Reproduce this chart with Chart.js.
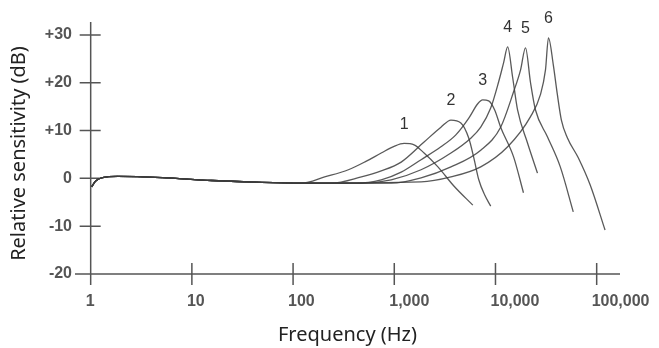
<!DOCTYPE html>
<html>
<head>
<meta charset="utf-8">
<script src="https://cdn.jsdelivr.net/npm/chart.js@4.4.1/dist/chart.umd.min.js"></script>
<style>
  html, body { margin: 0; padding: 0; background: #fff; }
</style>
</head>
<body>
<canvas id="chart" width="659" height="348"></canvas>
<script>
// shared low-frequency part of every curve (Hz, dB)
const baseHz = [1.02, 1.12, 1.31, 1.84, 2.9, 5.1, 15.8, 49, 122];
const baseDb = [-1.8, -0.55, 0.15, 0.4, 0.35, 0.15, -0.45, -0.85, -1.0];

// resonance curves 1..6, continuing from the shared part
const c1Hz = [205, 352, 530, 743, 997, 1250, 1570, 1970, 2700, 3880, 5970];
const c1Db = [0.3, 1.8, 3.6, 5.3, 6.7, 7.3, 7.0, 5.3, 2.4, -1.6, -5.6];
const c2Hz = [240, 473, 743, 1170, 1970, 2890, 3630, 4550, 5450, 6110, 6840, 7830, 8970];
const c2Db = [-1.0, 0.3, 1.55, 3.4, 7.6, 10.7, 12.2, 11.6, 8.4, 4.3, -0.3, -3.5, -5.8];
const c3Hz = [422, 743, 1170, 1840, 2890, 4060, 5450, 6680, 7480, 8570, 9820, 11250, 15100, 18900];
const c3Db = [-1.0, -0.3, 1.3, 3.9, 6.6, 9.1, 12.6, 15.6, 16.4, 16.2, 14.3, 10.7, 4.5, -3.0];
const c4Hz = [473, 933, 1840, 3630, 5700, 7150, 8970, 10750, 12040, 13200, 14760, 16530, 20730, 26000];
const c4Db = [-1.0, -0.3, 1.8, 5.3, 8.4, 10.7, 14.7, 20.2, 24.2, 27.5, 21.2, 14.3, 7.4, 1.1];
const c5Hz = [933, 1840, 3630, 7150, 11250, 15100, 17700, 19800, 22200, 24850, 32600, 43700, 58700];
const c5Db = [-1.0, 0.1, 2.4, 5.9, 10.7, 18.1, 22.7, 27.3, 20.0, 14.3, 8.7, 2.4, -7.0];
const c6Hz = [1840, 3630, 7150, 13200, 22200, 27800, 31200, 33400, 37300, 40900, 44800, 51300, 65800, 86300, 121000];
const c6Db = [-0.75, 0.3, 2.4, 6.6, 12.9, 17.5, 22.7, 29.4, 23.7, 17.5, 12.2, 8.5, 4.3, -1.4, -10.8];

const curveNames = ["1", "2", "3", "4", "5", "6"];
const xTicks = [1, 10, 100, 1000, 10000, 100000];
const yTicks = [-20, -10, 0, 10, 20, 30];

function toPoints(hz, db) {
    const f = baseHz.concat(hz);
    const d = baseDb.concat(db);
    return f.map((v, i) => ({ x: v, y: d[i] }));
}

const curves = [[c1Hz, c1Db], [c2Hz, c2Db], [c3Hz, c3Db], [c4Hz, c4Db], [c5Hz, c5Db], [c6Hz, c6Db]];

const lineGrey = "rgba(60,60,60,0.85)";
const tickFont = { family: "'Liberation Sans', Arial, sans-serif", size: 16, weight: "bold" };
const titleFont = { family: "'Noto Sans', sans-serif", size: 20 };

// axis lines with ticks crossing them, like the printed figure
const axisLines = {
    id: "axisLines",
    beforeDatasetsDraw(chart) {
        const { ctx, chartArea: a, scales: { x, y } } = chart;
        const x0 = x.getPixelForValue(1);
        const y0 = y.getPixelForValue(-20);
        ctx.save();
        ctx.strokeStyle = "#555";
        ctx.lineWidth = 1.5;
        ctx.beginPath();
        ctx.moveTo(x0, a.top);
        ctx.lineTo(x0, a.bottom);
        ctx.moveTo(a.left, y0);
        ctx.lineTo(a.right, y0);
        yTicks.forEach(v => {
            const p = y.getPixelForValue(v);
            ctx.moveTo(x0 - 11, p);
            ctx.lineTo(x0 + 10, p);
        });
        xTicks.forEach(v => {
            const p = x.getPixelForValue(v);
            ctx.moveTo(p, y0 - 11);
            ctx.lineTo(p, y0 + 11);
        });
        ctx.stroke();
        ctx.restore();
    }
};

// curve numbers above each peak
const peakLabels = {
    id: "peakLabels",
    afterDatasetsDraw(chart) {
        const ctx = chart.ctx;
        ctx.save();
        ctx.font = "16px 'Liberation Sans', Arial, sans-serif";
        ctx.fillStyle = "#333";
        ctx.textAlign = "center";
        ctx.textBaseline = "middle";
        chart.data.datasets.forEach((ds, i) => {
            const pts = chart.getDatasetMeta(i).data;
            let top = pts[0];
            pts.forEach(p => { if (p.y < top.y) top = p; });
            ctx.fillText(curveNames[i], top.x, top.y - 19);
        });
        ctx.restore();
    }
};

new Chart(document.getElementById("chart"), {
    type: "line",
    data: {
        datasets: curves.map((c, i) => ({
            label: curveNames[i],
            data: toPoints(c[0], c[1]),
            borderColor: lineGrey,
            borderWidth: 1.3,
            pointRadius: 0,
            fill: false,
            cubicInterpolationMode: "monotone"
        }))
    },
    options: {
        responsive: false,
        animation: false,
        layout: { padding: { top: 22, right: 39, bottom: 0, left: 0 } },
        plugins: { legend: { display: false }, tooltip: { enabled: false } },
        scales: {
            x: {
                type: "logarithmic",
                position: "bottom",
                min: 0.745,
                max: 170000,
                grid: { display: false, drawTicks: false },
                border: { display: false },
                afterBuildTicks: s => { s.ticks = xTicks.map(v => ({ value: v })); },
                afterFit: s => { s.height = 63; s.paddingLeft = 0; s.paddingRight = 0; },
                ticks: {
                    autoSkip: false,
                    maxRotation: 0,
                    align: "start",
                    labelOffset: -5,
                    padding: 7,
                    color: "#555",
                    font: tickFont,
                    callback: v => Number(v).toLocaleString("en-US")
                },
                title: {
                    display: true,
                    text: "Frequency (Hz)",
                    color: "#222",
                    font: titleFont,
                    padding: { top: 0, bottom: 1 }
                }
            },
            y: {
                type: "linear",
                position: "left",
                min: -22.3,
                max: 32.7,
                grid: { display: false, drawTicks: false },
                border: { display: false },
                afterBuildTicks: s => { s.ticks = yTicks.map(v => ({ value: v })); },
                afterFit: s => { s.width = 75; s.paddingTop = 0; s.paddingBottom = 0; },
                ticks: {
                    padding: 3,
                    color: "#555",
                    font: tickFont,
                    callback: v => (v > 0 ? "+" + v : String(v))
                },
                title: {
                    display: true,
                    text: "Relative sensitivity (dB)",
                    color: "#222",
                    font: titleFont,
                    padding: { top: 7, bottom: 0 }
                }
            }
        }
    },
    plugins: [axisLines, peakLabels]
});
</script>
</body>
</html>
